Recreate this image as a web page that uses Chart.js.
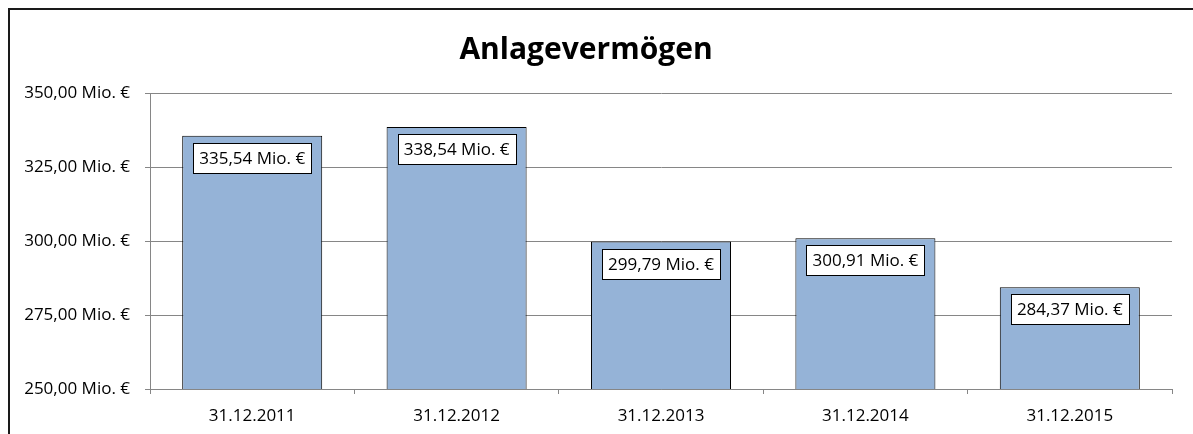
<!DOCTYPE html>
<html>
<head>
<meta charset="utf-8">
<script src="https://cdn.jsdelivr.net/npm/chart.js@4/dist/chart.umd.min.js"></script>
<style>
  html, body { margin: 0; padding: 0; background: #fff; }
  #wrap { width: 1193px; height: 434px; }
</style>
</head>
<body>
<div id="wrap"><canvas id="chart" width="1193" height="434"></canvas></div>
<script>
var categories = ["31.12.2011", "31.12.2012", "31.12.2013", "31.12.2014", "31.12.2015"];
var values = [335.54, 338.54, 299.79, 300.91, 284.37];
var yMin = 250, yMax = 350, yStep = 25;
var chartTitle = "Anlagevermögen";

var fontFamily = "'Open Sans', 'Noto Sans', sans-serif";
var textSize = 17;

function fmt(v) {
  return v.toFixed(2).replace('.', ',') + ' Mio. €';
}

// frame of the chart object (only top and left edges are inside the picture)
var framePlugin = {
  id: 'frame',
  beforeDraw: function (chart) {
    var ctx = chart.ctx;
    ctx.save();
    ctx.fillStyle = '#fff';
    ctx.fillRect(0, 0, chart.width, chart.height);
    ctx.strokeStyle = '#1a1a1a';
    ctx.lineWidth = 2;
    ctx.beginPath();
    ctx.moveTo(9, chart.height);
    ctx.lineTo(9, 9);
    ctx.lineTo(chart.width, 9);
    ctx.stroke();
    ctx.restore();
  }
};

// value boxes inside the top of each bar
var boxLabels = {
  id: 'boxLabels',
  afterDatasetsDraw: function (chart) {
    var ctx = chart.ctx;
    var meta = chart.getDatasetMeta(0);
    ctx.save();
    ctx.font = textSize + 'px ' + fontFamily;
    ctx.textAlign = 'center';
    ctx.textBaseline = 'middle';
    meta.data.forEach(function (bar, i) {
      var txt = fmt(values[i]);
      var w = Math.round(ctx.measureText(txt).width + 12);
      var h = 30;
      var x = Math.round(bar.x - w / 2);
      var y = Math.round(bar.y + 7);
      ctx.fillStyle = '#fff';
      ctx.fillRect(x, y, w, h);
      ctx.strokeStyle = '#000';
      ctx.lineWidth = 1;
      ctx.strokeRect(x + 0.5, y + 0.5, w, h);
      ctx.fillStyle = '#000';
      ctx.fillText(txt, bar.x, y + h / 2 + 1);
    });
    ctx.restore();
  }
};

var ctx = document.getElementById('chart');
var chart = new Chart(ctx, {
  type: 'bar',
  data: {
    labels: categories,
    datasets: [{
      data: values,
      backgroundColor: '#95b3d7',
      borderColor: '#000',
      borderWidth: 1,
      borderSkipped: false,
      barPercentage: 0.685,
      categoryPercentage: 1
    }]
  },
  options: {
    responsive: false,
    animation: false,
    layout: { padding: { left: 0, right: 21, top: 8, bottom: 0 } },
    plugins: {
      legend: { display: false },
      tooltip: { enabled: false },
      title: {
        display: true,
        text: chartTitle,
        color: '#000',
        font: { family: fontFamily, size: 30, weight: 'bold' },
        padding: { top: 24, bottom: 25 }
      }
    },
    scales: {
      x: {
        afterFit: function (s) { s.height = 45; },
        grid: { display: true, drawOnChartArea: false, drawTicks: true, tickLength: 5, color: '#868686', offset: true },
        border: { display: true, color: '#868686', width: 1 },
        ticks: { color: '#000', padding: 12, font: { family: fontFamily, size: textSize } }
      },
      y: {
        min: yMin,
        max: yMax,
        afterFit: function (s) { s.width = 150; },
        grid: { color: '#868686', tickLength: 5, drawTicks: true },
        border: { display: true, color: '#868686', width: 1 },
        ticks: {
          stepSize: yStep,
          color: '#000',
          padding: 15,
          font: { family: fontFamily, size: textSize },
          callback: function (v) { return fmt(v); }
        }
      }
    }
  },
  plugins: [framePlugin, boxLabels]
});
</script>
</body>
</html>
